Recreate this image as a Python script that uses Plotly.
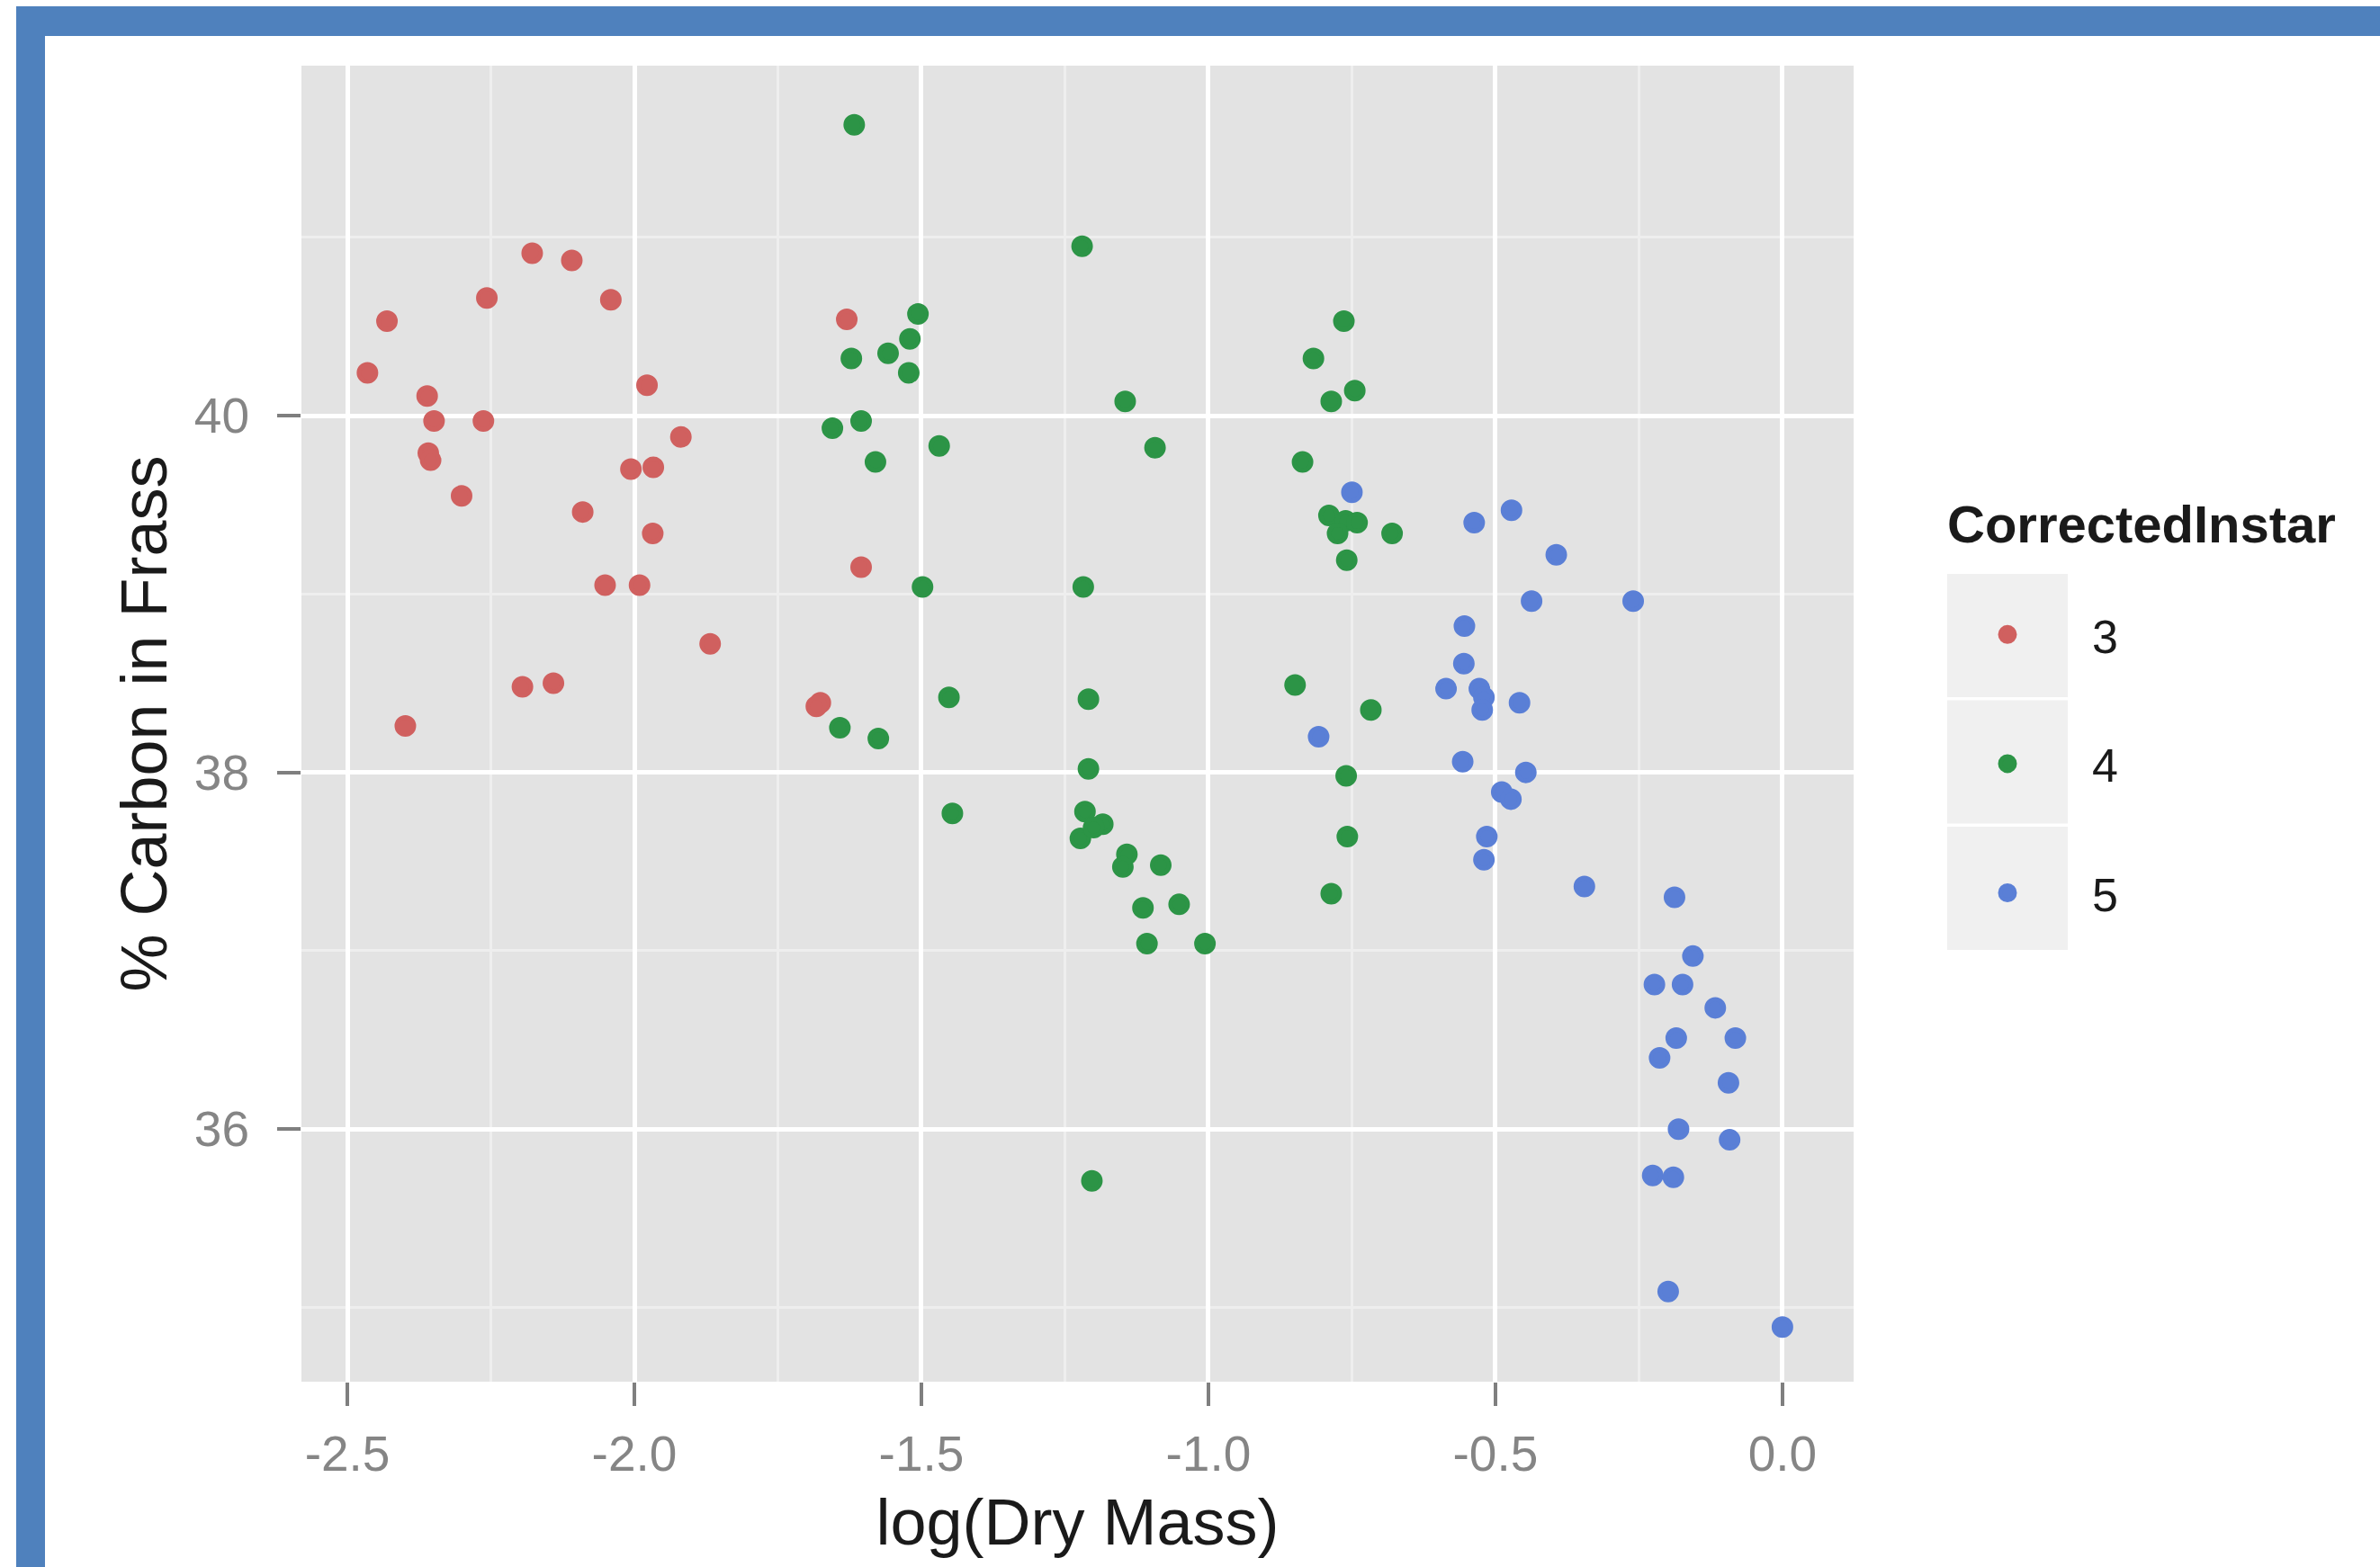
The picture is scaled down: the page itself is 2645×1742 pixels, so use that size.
import plotly.graph_objects as go

# ---------------- data ----------------
instar_labels = ["3", "4", "5"]

x_instar3 = [-2.178, -2.109, -2.257, -2.041, -2.431, -2.465, -1.978, -2.361, -2.349, -2.263,
             -1.919, -2.006, -1.967, -2.359, -2.355, -2.301, -2.090, -1.968, -2.051, -1.991,
             -1.868, -2.195, -2.141, -2.399, -1.630, -1.605, -1.676, -1.683]
y_instar3 = [40.91, 40.87, 40.66, 40.65, 40.53, 40.24, 40.17, 40.11, 39.97, 39.97,
             39.88, 39.70, 39.71, 39.79, 39.75, 39.55, 39.46, 39.34, 39.05, 39.05,
             38.72, 38.48, 38.50, 38.26, 40.54, 39.15, 38.39, 38.37]

x_instar4 = [-1.617, -1.220, -1.506, -1.520, -1.558, -1.622, -1.522, -1.145, -1.605, -1.655,
             -1.469, -1.093, -1.580, -1.498, -1.218, -1.642, -1.575, -1.452, -1.209, -1.209,
             -1.446, -1.215, -1.184, -1.223, -1.200, -1.142, -1.149, -1.083, -1.114, -1.051,
             -1.107, -1.006, -1.203,
             -0.764, -0.817, -0.745, -0.786, -0.836, -0.790, -0.761, -0.741, -0.775, -0.680,
             -0.759, -0.849, -0.717, -0.760, -0.758, -0.786]
y_instar4 = [41.63, 40.95, 40.57, 40.43, 40.35, 40.32, 40.24, 40.08, 39.97, 39.93,
             39.83, 39.82, 39.74, 39.04, 39.04, 38.25, 38.19, 38.42, 38.41, 38.02,
             37.77, 37.78, 37.71, 37.63, 37.69, 37.54, 37.47, 37.48, 37.24, 37.26,
             37.04, 37.04, 35.71,
             40.53, 40.32, 40.14, 40.08, 39.74, 39.44, 39.41, 39.40, 39.34, 39.34,
             39.19, 38.49, 38.35, 37.98, 37.64, 37.32]

x_instar5 = [-0.750, -0.537, -0.472, -0.394, -0.437, -0.260, -0.554, -0.555, -0.586, -0.528,
             -0.520, -0.523, -0.458, -0.808, -0.557, -0.447, -0.489, -0.473, -0.515, -0.520,
             -0.345, -0.188, -0.156, -0.223, -0.174, -0.117, -0.185, -0.082, -0.214, -0.094,
             -0.181, -0.092, -0.226, -0.190, -0.199, 0.000]
y_instar5 = [39.57, 39.40, 39.47, 39.22, 38.96, 38.96, 38.82, 38.61, 38.47, 38.47,
             38.42, 38.35, 38.39, 38.20, 38.06, 38.00, 37.89, 37.85, 37.64, 37.51,
             37.36, 37.30, 36.97, 36.81, 36.81, 36.68, 36.51, 36.51, 36.40, 36.26,
             36.00, 35.94, 35.74, 35.73, 35.09, 34.89]

x_tickvals = [-2.5, -2.0, -1.5, -1.0, -0.5, 0.0]
x_ticktext = ["-2.5", "-2.0", "-1.5", "-1.0", "-0.5", "0.0"]
y_tickvals = [36, 38, 40]
y_ticktext = ["36", "38", "40"]

x_title = "log(Dry Mass)"
y_title = "% Carbon in Frass"
legend_title = "CorrectedInstar"

# ---------------- layout geometry ----------------
W, H = 2645, 1742
ML, MR, MT, MB = 335, 585, 73, 206
PW = W - ML - MR
PH = H - MT - MB


def px_x(px):
    return (px - ML) / PW


def px_y(py):
    return (H - MB - py) / PH


colors = ["#D0605F", "#2C9446", "#5A7FD6"]
FONT = "Liberation Sans, Arial, sans-serif"

series = [(x_instar3, y_instar3), (x_instar4, y_instar4), (x_instar5, y_instar5)]

fig = go.Figure()
for i, (xs, ys) in enumerate(series):
    fig.add_trace(go.Scatter(
        x=xs, y=ys, mode="markers", name=instar_labels[i],
        legendgroup=instar_labels[i],
        marker=dict(size=19, color=colors[i], line=dict(width=5, color=colors[i])),
    ))

shapes = []
# blue frame (top and left bars)
shapes.append(dict(type="rect", xref="paper", yref="paper",
                   x0=px_x(18), x1=px_x(W + 20), y0=px_y(40), y1=px_y(7),
                   fillcolor="#4F81BD", line=dict(width=0), layer="below"))
shapes.append(dict(type="rect", xref="paper", yref="paper",
                   x0=px_x(18), x1=px_x(50), y0=px_y(H + 20), y1=px_y(7),
                   fillcolor="#4F81BD", line=dict(width=0), layer="below"))
# legend key boxes
for k in range(3):
    y0 = 638 + k * 140.5
    shapes.append(dict(type="rect", xref="paper", yref="paper",
                       x0=px_x(2164), x1=px_x(2298), y0=px_y(y0 + 137), y1=px_y(y0),
                       fillcolor="#F0F0F0", line=dict(width=0), layer="below"))

fig.update_layout(
    width=W, height=H,
    margin=dict(l=ML, r=MR, t=MT, b=MB, autoexpand=False),
    paper_bgcolor="white",
    plot_bgcolor="#E3E3E3",
    font=dict(family=FONT, color="#1A1A1A"),
    shapes=shapes,
    showlegend=True,
    legend=dict(
        x=px_x(2137), xanchor="left",
        y=px_y(665), yanchor="top",
        bgcolor="rgba(0,0,0,0)", borderwidth=0,
        font=dict(size=52, color="#1A1A1A", family=FONT),
        itemwidth=178,
        tracegroupgap=73,
        itemclick=False, itemdoubleclick=False,
    ),
    annotations=[dict(
        text=legend_title, xref="paper", yref="paper",
        x=px_x(2162), y=px_y(582), xanchor="left", yanchor="middle",
        showarrow=False, font=dict(size=58, color="#1A1A1A", family=FONT, weight="bold"),
    )],
)

fig.update_xaxes(
    range=[-2.580, 0.124],
    tickvals=x_tickvals, ticktext=x_ticktext,
    ticks="outside", ticklen=26, tickwidth=4, tickcolor="#7F7F7F",
    tickfont=dict(size=55, color="#858585", family=FONT),
    ticklabelstandoff=6,
    showgrid=True, gridcolor="white", gridwidth=5,
    minor=dict(dtick=0.25, tick0=0, showgrid=True, gridcolor="#EEEEEE", gridwidth=2.5, ticks=""),
    zeroline=False, showline=False,
    title=dict(text=x_title, font=dict(size=72, color="#1A1A1A", family=FONT), standoff=20),
    automargin=False,
)
fig.update_yaxes(
    range=[34.584, 41.962],
    tickvals=y_tickvals, ticktext=y_ticktext,
    ticks="outside", ticklen=26, tickwidth=4, tickcolor="#7F7F7F",
    tickfont=dict(size=55, color="#858585", family=FONT),
    ticklabelstandoff=20,
    showgrid=True, gridcolor="white", gridwidth=5,
    minor=dict(dtick=1, tick0=0, showgrid=True, gridcolor="#EEEEEE", gridwidth=2.5, ticks=""),
    zeroline=False, showline=False,
    title=dict(text=y_title, font=dict(size=72, color="#1A1A1A", family=FONT), standoff=6),
    automargin=False,
)

fig.write_html("out.html")
